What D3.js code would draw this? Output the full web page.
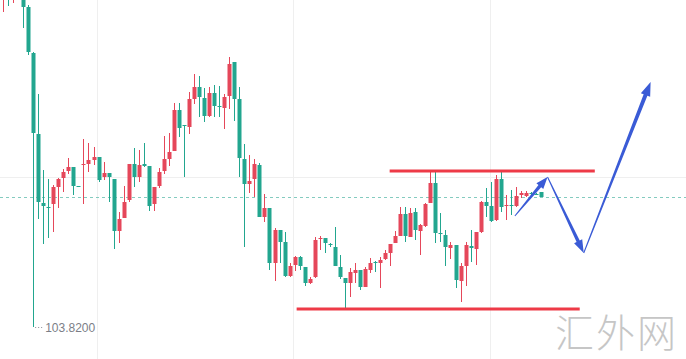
<!DOCTYPE html>
<html><head><meta charset="utf-8">
<script src="https://cdn.jsdelivr.net/npm/d3@7/dist/d3.min.js"></script>
<style>html,body{margin:0;padding:0;background:#fff;overflow:hidden}svg{display:block}</style>
</head><body><svg id="c" width="686" height="359"></svg>
<script>
// ---- data (prices) ----
const open  = [107.12,107.24,107.11,107.21,107.14,107.02,106.56,105.75,105.06,105.02,105.05,105.22,105.31,105.38,105.42,105.23,105.44,105.45,105.49,105.52,105.32,105.36,105.30,104.78,104.91,105.09,105.45,105.32,105.45,105.43,105.05,105.23,105.38,105.50,105.58,105.99,105.84,105.82,106.10,106.22,106.11,105.93,106.16,106.03,106.01,106.13,106.47,106.10,105.50,105.25,105.30,105.44,104.92,105.01,104.46,104.79,104.67,104.33,104.44,104.52,104.42,104.26,104.32,104.70,104.71,104.65,104.62,104.42,104.31,104.26,104.36,104.39,104.22,104.39,104.47,104.46,104.50,104.56,104.66,104.73,104.95,104.72,104.97,104.78,104.83,105.06,105.26,104.76,104.74,104.61,104.64,104.28,104.43,104.63,104.60,104.77,105.07,105.03,104.89,105.30,105.03,105.04,105.03,105.14,105.13,105.16,105.15,105.17];
const high  = [107.27,107.29,107.23,107.27,107.19,107.04,106.57,106.15,105.39,105.30,105.24,105.31,105.40,105.51,105.42,105.23,105.70,105.66,105.62,105.52,105.47,105.36,105.30,104.97,105.23,105.45,105.61,105.59,105.66,105.43,105.22,105.41,105.73,105.76,106.06,106.06,105.84,106.17,106.35,106.33,106.21,106.22,106.24,106.23,106.15,106.52,106.47,106.22,105.65,105.54,105.50,105.46,105.15,105.01,104.81,104.79,104.77,104.46,104.53,104.53,104.42,104.32,104.72,104.73,104.71,104.66,104.82,104.54,104.31,104.41,104.46,104.39,104.42,104.51,104.48,104.52,104.59,104.65,104.78,105.02,105.02,105.01,105.01,104.85,105.06,105.39,105.39,104.96,104.79,104.67,104.64,104.46,104.67,104.79,104.77,105.08,105.21,105.27,105.34,105.37,105.14,105.19,105.22,105.18,105.18,105.17,105.16,105.17];
const low   = [106.97,107.03,107.06,107.11,106.81,106.54,103.82,104.90,104.65,104.71,104.77,105.01,105.17,105.35,105.14,105.22,105.05,105.37,105.44,105.27,105.29,105.07,104.60,104.66,104.91,105.07,105.22,105.27,105.42,104.98,104.98,105.21,105.35,105.43,105.58,105.72,105.32,105.75,106.05,105.92,105.87,105.92,105.92,105.92,105.80,106.00,105.88,105.32,104.62,105.16,105.12,104.92,104.87,104.39,104.28,104.46,104.32,104.32,104.38,104.39,104.23,104.25,104.31,104.59,104.56,104.62,104.43,104.30,103.99,104.12,104.26,104.19,104.22,104.36,104.37,104.21,104.49,104.43,104.66,104.73,104.67,104.72,104.69,104.54,104.82,105.06,104.66,104.67,104.43,104.50,104.21,104.07,104.23,104.47,104.44,104.76,104.92,104.87,104.88,104.97,104.89,104.94,105.02,105.11,105.12,105.13,105.14,105.12];
const close = [107.21,107.12,107.19,107.13,107.02,106.57,105.76,105.07,105.03,105.01,105.22,105.30,105.37,105.42,105.23,105.22,105.45,105.49,105.52,105.29,105.36,105.32,104.78,104.90,105.07,105.45,105.32,105.44,105.43,105.03,105.22,105.37,105.50,105.57,105.99,105.81,105.83,106.10,106.22,106.12,105.93,106.16,106.03,106.02,106.12,106.45,106.10,105.51,105.25,105.28,105.45,104.92,105.01,104.46,104.79,104.67,104.33,104.43,104.52,104.43,104.26,104.30,104.69,104.71,104.66,104.64,104.43,104.32,104.26,104.37,104.39,104.22,104.40,104.46,104.46,104.49,104.56,104.65,104.73,104.95,104.73,104.96,104.79,104.84,105.05,105.26,104.76,104.75,104.62,104.64,104.29,104.43,104.64,104.61,104.77,105.07,105.03,104.88,105.30,105.02,105.04,105.03,105.13,105.16,105.16,105.15,105.14,105.12];

const lowLabel = "103.8200";
const resistance = {price: 105.38, from: 76.9, to: 117.7};
const support    = {price: 104.00, from: 58.4, to: 114.7};
const lastPrice = 105.12;
const gridPrice = [105.32];
const gridIndex = [18.7, 57.65, 96.8];
// projected path (bar index, price)
const arrowIdx   = [101.8, 108.3, 115.5, 128.8];
const arrowPrice = [104.93, 105.32, 104.56, 106.27];
const watermark = "汇外网";

// ---- scales ----
const W = 686, H = 359;
const x = d3.scaleLinear().domain([0, 107]).range([3, 541]);
const y = d3.scaleLinear().domain([107.09, 103.50]).range([0, 359]);
const svg = d3.select("#c");
const UP = "#e5475a", DOWN = "#22a68f";

// grid
svg.append("g").selectAll("line").data(gridIndex).join("line")
  .attr("x1", d => Math.round(x(d)) + 0.5).attr("x2", d => Math.round(x(d)) + 0.5)
  .attr("y1", 0).attr("y2", H).attr("stroke", "#efefef").attr("stroke-width", 1);
svg.append("g").selectAll("line").data(gridPrice).join("line")
  .attr("x1", 0).attr("x2", W)
  .attr("y1", d => Math.round(y(d)) + 0.5).attr("y2", d => Math.round(y(d)) + 0.5)
  .attr("stroke", "#efefef").attr("stroke-width", 1);

// last price dashed line
svg.append("line").attr("x1", 0).attr("x2", W)
  .attr("y1", Math.round(y(lastPrice)) + 0.5).attr("y2", Math.round(y(lastPrice)) + 0.5)
  .attr("stroke", "#84cbbf").attr("stroke-width", 1).attr("stroke-dasharray", "3,3");

// candles
const candles = d3.range(open.length).map(i => ({i, o: open[i], h: high[i], l: low[i], c: close[i]}));
const g = svg.append("g");
const cg = g.selectAll("g").data(candles).join("g");
cg.append("line")
  .attr("x1", d => Math.round(x(d.i)) + 0.5).attr("x2", d => Math.round(x(d.i)) + 0.5)
  .attr("y1", d => y(d.h)).attr("y2", d => y(d.l))
  .attr("stroke", d => d.c >= d.o ? UP : DOWN).attr("stroke-width", 1);
cg.append("rect")
  .attr("x", d => Math.round(x(d.i)) - 1.5).attr("width", 4)
  .attr("y", d => y(Math.max(d.o, d.c)))
  .attr("height", d => Math.max(1, Math.abs(y(d.o) - y(d.c))))
  .attr("fill", d => d.c >= d.o ? UP : DOWN);

// low label
const li = low.indexOf(d3.min(low));
svg.append("line").attr("x1", x(li) + 2).attr("x2", x(li) + 10)
  .attr("y1", y(low[li]) + 0.5).attr("y2", y(low[li]) + 0.5)
  .attr("stroke", "#8a8d96").attr("stroke-width", 1).attr("stroke-dasharray", "1,2");
svg.append("text").attr("x", x(li) + 12).attr("y", y(low[li]) + 5)
  .attr("font-family", "Liberation Sans, Arial, sans-serif").attr("font-size", 12)
  .attr("fill", "#7b7e87").text(lowLabel);

// support / resistance
[resistance, support].forEach(s => {
  svg.append("line").attr("x1", x(s.from)).attr("x2", x(s.to))
    .attr("y1", y(s.price)).attr("y2", y(s.price))
    .attr("stroke", "#ee3a47").attr("stroke-width", 3);
});

// tapered arrows
function arrow(p0, p1, w0, w1, headLen, headW) {
  const dx = p1[0] - p0[0], dy = p1[1] - p0[1];
  const L = Math.hypot(dx, dy), ux = dx / L, uy = dy / L, nx = -uy, ny = ux;
  const bx = p1[0] - ux * headLen, by = p1[1] - uy * headLen;
  const pts = [
    [p0[0] + nx * w0 / 2, p0[1] + ny * w0 / 2],
    [bx + nx * w1 / 2, by + ny * w1 / 2],
    [bx + nx * headW / 2, by + ny * headW / 2],
    p1,
    [bx - nx * headW / 2, by - ny * headW / 2],
    [bx - nx * w1 / 2, by - ny * w1 / 2],
    [p0[0] - nx * w0 / 2, p0[1] - ny * w0 / 2]
  ];
  svg.append("path").attr("d", d3.line()(pts) + "Z").attr("fill", "#3a5bd6");
}
const ap = arrowIdx.map((d, k) => [x(d), y(arrowPrice[k])]);
arrow(ap[0], ap[1], 1, 3.5, 12, 9);
arrow(ap[1], ap[2], 1, 3.5, 13, 9);
arrow(ap[2], ap[3], 1, 4, 14, 10);

// watermark
svg.append("text").attr("x", 555).attr("y", 347)
  .attr("font-family", "Noto Sans CJK SC, sans-serif").attr("font-weight", 300)
  .attr("font-size", 39).attr("letter-spacing", 2).attr("fill", "#c6c6c6").text(watermark);
</script></body></html>
